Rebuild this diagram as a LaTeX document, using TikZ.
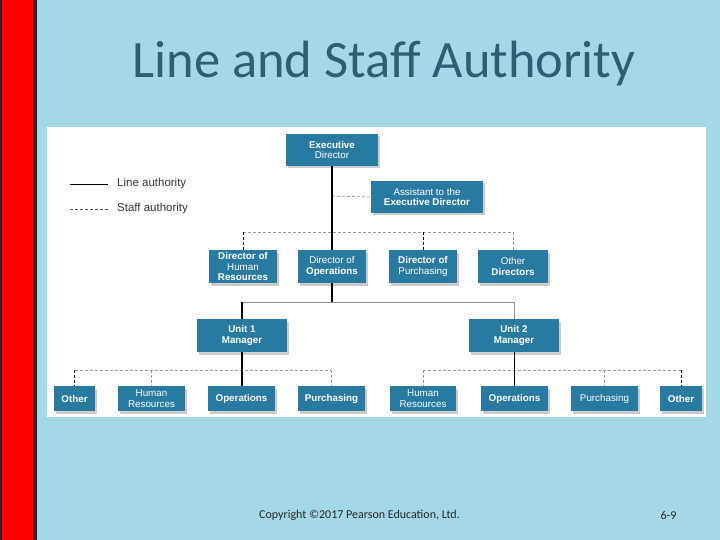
\documentclass[tikz,border=0pt]{standalone}
\usepackage{fontspec}
\setmainfont{Liberation Sans}
\newfontfamily\titlefont{Carlito}
\usetikzlibrary{shadows}
\definecolor{bgblue}{RGB}{165,216,230}
\definecolor{boxblue}{RGB}{40,122,160}
\definecolor{titleblue}{RGB}{47,94,114}
\definecolor{redbar}{RGB}{255,0,0}
\definecolor{darkedge}{RGB}{35,40,25}
\definecolor{staffgray}{RGB}{150,150,150}
\tikzset{
  orgbox/.style={fill=boxblue, text=white, inner sep=0pt, align=center,
    font=\fontsize{9.8}{10.5}\selectfont,
    drop shadow={shadow xshift=2pt, shadow yshift=-2.5pt, fill=black, opacity=0.2}},
  lineauth/.style={draw=black, line width=1.4pt},
  linegray/.style={draw=staffgray, line width=0.7pt},
  staffblack/.style={draw=black, line width=0.7pt, dash pattern=on 3pt off 2pt},
  staffgrayd/.style={draw=staffgray, line width=0.7pt, dash pattern=on 3pt off 2pt},
  legendtxt/.style={font=\fontsize{11.5}{13}\selectfont, text=black!80, anchor=west, inner sep=0pt}
}
\begin{document}
\begin{tikzpicture}[x=1pt,y=-1pt]
\useasboundingbox (0,0) rectangle (720,540);
\fill[bgblue] (0,0) rectangle (720,540);
\fill[redbar] (0,0) rectangle (34,540);
\fill[darkedge] (33,0) rectangle (37,540);
\fill[darkedge] (0,0) rectangle (1.5,540);
\node[font=\titlefont\fontsize{52.5}{58}\selectfont, text=titleblue] (title) at (384,63.5) {Line and Staff Authority};
\fill[white] (47,127) rectangle (706,417);
% legend
\coordinate (la) at (70,184); \coordinate (lb) at (108,184);
\coordinate (sa) at (70,209); \coordinate (sb) at (108,209);
\draw[black, line width=0.8pt] (la) -- (lb);
\draw[black!70, line width=0.7pt, dash pattern=on 3pt off 2pt] (sa) -- (sb);
\node[legendtxt] (lt) at (117,184) {Line authority};
\node[legendtxt] (st) at (117,209) {Staff authority};
% boxes
\node[orgbox, minimum width=92pt, minimum height=32pt] (exec) at (332,150) {\textbf{Executive}\\Director};
\node[orgbox, minimum width=112pt, minimum height=32pt] (asst) at (427,197) {Assistant to the\\\textbf{Executive Director}};
\node[orgbox, minimum width=68pt, minimum height=33pt] (dhr) at (243,266.5) {\textbf{Director of}\\Human\\\textbf{Resources}};
\node[orgbox, minimum width=68pt, minimum height=33pt] (dops) at (332,266.5) {Director of\\\textbf{Operations}};
\node[orgbox, minimum width=68pt, minimum height=33pt] (dpur) at (423,266.5) {\textbf{Director of}\\Purchasing};
\node[orgbox, minimum width=70pt, minimum height=33pt] (doth) at (513,266.5) {Other\\\textbf{Directors}};
\node[orgbox, minimum width=90pt, minimum height=33pt] (u1) at (242,335.5) {\textbf{Unit 1}\\\textbf{Manager}};
\node[orgbox, minimum width=90pt, minimum height=33pt] (u2) at (514,335.5) {\textbf{Unit 2}\\\textbf{Manager}};
\node[orgbox, minimum width=41pt, minimum height=25pt] (o1) at (74.5,398.5) {\textbf{Other}};
\node[orgbox, minimum width=67pt, minimum height=25pt] (h1) at (151.5,398.5) {Human\\Resources};
\node[orgbox, minimum width=67pt, minimum height=25pt] (op1) at (241.5,398.5) {\textbf{Operations}};
\node[orgbox, minimum width=67pt, minimum height=25pt] (p1) at (331.5,398.5) {\textbf{Purchasing}};
\node[orgbox, minimum width=66pt, minimum height=25pt] (h2) at (423,398.5) {Human\\Resources};
\node[orgbox, minimum width=67pt, minimum height=25pt] (op2) at (514.5,398.5) {\textbf{Operations}};
\node[orgbox, minimum width=67pt, minimum height=25pt] (p2) at (604.5,398.5) {Purchasing};
\node[orgbox, minimum width=42pt, minimum height=25pt] (o2) at (681,398.5) {\textbf{Other}};
% connectors: executive level
\coordinate (asj) at (332,196);
\draw[staffgrayd] (asj) -- (asst.west);
\coordinate (dj) at (332,232);
\draw[staffgrayd] (dhr.north |- dj) -- (doth.north |- dj);
\draw[staffblack] (dhr.north |- dj) -- (dhr.north);
\draw[staffblack] (dpur.north |- dj) -- (dpur.north);
\draw[staffgrayd] (doth.north |- dj) -- (doth.north);
\coordinate (uj) at (332,302);
\draw[linegray] (u1.north |- uj) -- (u2.north |- uj);
\draw[linegray] (u2.north |- uj) -- (u2.north);
\draw[lineauth] (u1.north |- uj) -- (u1.north);
\draw[lineauth] (exec.south) -- (dops.north);
\draw[lineauth] (dops.south) -- (uj);
% unit 1
\coordinate (b1) at (242,370);
\draw[staffgrayd] (o1.north |- b1) -- (p1.north |- b1);
\draw[staffblack] (o1.north |- b1) -- (o1.north);
\draw[staffgrayd] (h1.north |- b1) -- (h1.north);
\draw[staffgrayd] (p1.north |- b1) -- (p1.north);
\draw[lineauth] (u1.south) -- (u1.south |- op1.north);
% unit 2
\coordinate (b2) at (514,370);
\draw[staffgrayd] (h2.north |- b2) -- (o2.north |- b2);
\draw[staffgrayd] (h2.north |- b2) -- (h2.north);
\draw[staffgrayd] (p2.north |- b2) -- (p2.north);
\draw[staffblack] (o2.north |- b2) -- (o2.north);
\draw[black, line width=1pt] (u2.south) -- (u2.south |- op2.north);
% footer
\node[font=\titlefont\fontsize{12}{14}\selectfont, text=black!85] (copy) at (359.5,515) {Copyright ©2017 Pearson Education, Ltd.};
\node[font=\titlefont\fontsize{12}{14}\selectfont, text=black!85] (pg) at (668.5,515) {6-9};
\end{tikzpicture}
\end{document}
